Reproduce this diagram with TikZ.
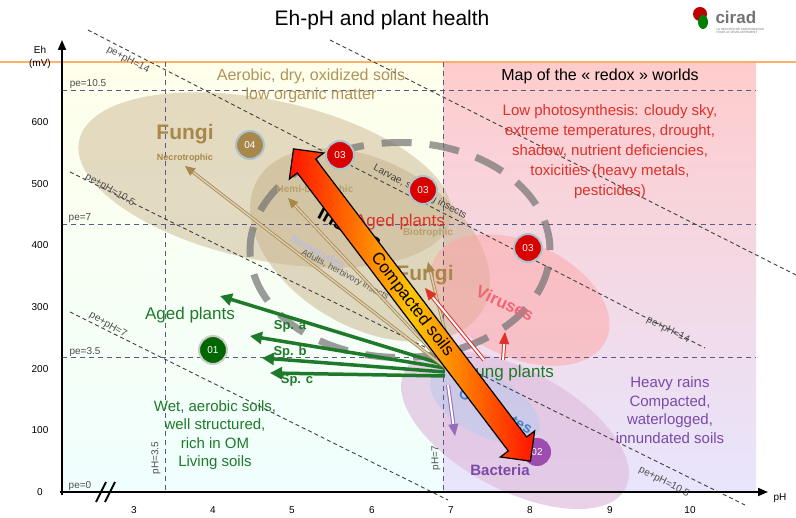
\documentclass[tikz,border=0pt]{standalone}
\usepackage{fontspec}
\setmainfont{Liberation Sans}
\usetikzlibrary{shapes.geometric,shapes.arrows,arrows.meta}
\definecolor{tan}{HTML}{A8874A}
\definecolor{dgreen}{HTML}{1E7A2A}
\definecolor{rtext}{HTML}{E0302A}
\definecolor{ptext}{HTML}{7A4AA8}
\tikzset{
 dl/.style={dash pattern=on 4pt off 3pt, line width=0.9pt, black!75},
 gl/.style={dash pattern=on 5pt off 4pt, line width=1pt, black!45!blue!30!gray},
 lbl/.style={font=\fontsize{10}{11}\selectfont, black!70},
 num/.style={circle, minimum size=28pt, inner sep=0pt, draw=cyan!30!gray!60, line width=2pt, text=white, font=\fontsize{10}{10}\selectfont},
 ell/.style={ellipse, inner sep=0pt},
 garr/.style={-{Triangle[length=12pt,width=12pt]}, dgreen, line width=3.5pt},
 tarr/.style={-{Triangle[length=10pt,width=9pt]}, double=white!60!tan, draw=tan, double distance=1.5pt, line width=0.8pt},
 rarr/.style={-{Triangle[length=12pt,width=10pt]}, double=white, draw=rtext, double distance=2pt, line width=1pt},
 parr/.style={-{Triangle[length=12pt,width=10pt]}, double=white, draw=ptext!80, double distance=2pt, line width=1pt},
}
\begin{document}
\begin{tikzpicture}[x=1pt,y=-1pt]
\useasboundingbox (0,0) rectangle (796,518);
\fill[white] (0,0) rectangle (796,518);
% backgrounds
\shade[top color=yellow!8!white, bottom color=green!10!cyan!6!white] (62,62) rectangle (443,492);
\shade[top color=red!20!white, bottom color=red!8!blue!10!white] (443,62) rectangle (756,492);
\draw[orange!60, line width=1.2pt] (0,62) -- (796,62);
% ellipses
\node[ell, fill=tan!55, opacity=0.55, minimum width=380pt, minimum height=160pt, rotate=-12] (efn) at (265,180) {};
\node[ell, fill=tan!65, opacity=0.5, minimum width=260pt, minimum height=165pt, rotate=-30] (efb) at (370,245) {};
\node[ell, fill=red!35, opacity=0.5, minimum width=190pt, minimum height=115pt, rotate=-25] (ev) at (520,300) {};
\node[ell, fill=blue!30!purple!25, opacity=0.7, minimum width=250pt, minimum height=120pt, rotate=-28] (eb) at (515,430) {};
\node[ell, fill=cyan!40!blue!25, opacity=0.6, minimum width=120pt, minimum height=60pt, rotate=-28] (eo) at (485,405) {};
% grid lines
\draw[gl] (62,91) -- (756,91);
\draw[gl] (62,225) -- (756,225);
\draw[gl] (62,358) -- (756,358);
\draw[gl] (165,62) -- (165,492);
\draw[gl] (443,62) -- (443,492);
% diagonal lines
\draw[dl] (88,30) -- (705,348);
\draw[dl] (330,40) -- (796,275);
\draw[dl] (70,172) -- (745,505);
\draw[dl] (70,312) -- (448,500);
% dashed circle
\node[ell, draw=black!55, opacity=0.7, line width=7pt, dash pattern=on 30pt off 18pt, minimum width=300pt, minimum height=215pt] (circ) at (400,250) {};
% axes
\draw[-{Triangle[length=10pt,width=8pt]}, line width=1.8pt] (62,495) -- (62,40);
\draw[-{Triangle[length=10pt,width=8pt]}, line width=1.8pt] (60,492) -- (768,492);
\draw[line width=1.8pt] (96,502) -- (106,482) (105,502) -- (115,482);
\node[font=\fontsize{10}{10}\selectfont] (eh) at (40,50) {Eh};
\node[font=\fontsize{10}{10}\selectfont] (mv) at (40,64) {(mV)};
\foreach \v/\y in {600/122,500/184,400/245,300/307,200/369,100/430,0/492}
  \node[font=\fontsize{10}{10}\selectfont] (t\v) at (40,\y) {\v};
\foreach \p/\x in {3/134,4/213,5/292,6/372,7/451,8/530,9/610,10/690}
  \node[font=\fontsize{10}{10}\selectfont] (x\p) at (\x,510) {\p};
\node[font=\fontsize{10}{10}\selectfont] (ph) at (780,498) {pH};
% line labels
\node[lbl] (pe105) at (88,84) {pe=10.5};
\node[lbl] (pe7) at (80,218) {pe=7};
\node[lbl] (pe35) at (85,352) {pe=3.5};
\node[lbl] (pe0) at (80,486) {pe=0};
\node[lbl, rotate=90] (ph35) at (156,458) {pH=3.5};
\node[lbl, rotate=90] (ph7) at (436,458) {pH=7};
\node[lbl, rotate=-28] (l14a) at (128,60) {pe+pH=14};
\node[lbl, rotate=-30] (l105a) at (110,190) {pe+pH=10.5};
\node[lbl, rotate=-30] (l7a) at (108,325) {pe+pH=7};
\node[lbl, rotate=-27] (l14b) at (668,330) {pe+pH=14};
\node[lbl, rotate=-27] (l105b) at (664,482) {pe+pH=10.5};
% title & logo
\node[font=\fontsize{21}{22}\selectfont] (title) at (382,20) {Eh-pH and plant health};
\fill[red!75!black] (700,14) circle (7pt);
\fill[green!50!black] (703,22) ellipse (5pt and 7pt);
\node[font=\bfseries\fontsize{17}{17}\selectfont, black!55, anchor=west] (cirad) at (712,17) {cirad};
\node[font=\fontsize{3}{3.5}\selectfont, black!55, anchor=west, align=left] (cirsub) at (713,31) {LA RECHERCHE AGRONOMIQUE\\POUR LE DÉVELOPPEMENT};
% region texts
\node[font=\fontsize{16}{19}\selectfont, tan!90, align=center] (aer) at (311,86) {Aerobic, dry, oxidized soils\\low organic matter};
\node[font=\fontsize{16}{18}\selectfont] (map) at (600,76) {Map of the « redox » worlds};
\node[font=\fontsize{15}{20}\selectfont, rtext, align=center] (lowp) at (610,152) {Low photosynthesis: cloudy sky,\\extreme temperatures, drought,\\shadow, nutrient deficiencies,\\toxicities (heavy metals,\\pesticides)};
\node[font=\bfseries\fontsize{21}{21}\selectfont, tan] (fungi1) at (185,134) {Fungi};
\node[font=\bfseries\fontsize{9}{9}\selectfont, tan] (necro) at (185,158) {Necrotrophic};
\node[font=\bfseries\fontsize{10}{10}\selectfont, tan!80] (hemi) at (315,190) {Hemi-biotrophic};
\node[font=\bfseries\fontsize{10}{10}\selectfont, tan!80] (bio) at (428,233) {Biotrophic};
\node[font=\bfseries\fontsize{21}{21}\selectfont, tan] (fungi2) at (425,275) {Fungi};
\node[font=\bfseries\fontsize{20}{20}\selectfont, rotate=-28] (insects) at (350,228) {Insects};
\node[font=\bfseries\fontsize{11}{11}\selectfont, blue!30!gray!40, rotate=-28] (nema) at (318,252) {Nematodes};
\node[font=\fontsize{9}{9}\selectfont, black!65, rotate=-28] (adults) at (345,275) {Adults, herbivory insects};
\node[font=\fontsize{10}{10}\selectfont, black!75, rotate=-28] (larvae) at (420,192) {Larvae, sucking insects};
\node[font=\fontsize{17}{17}\selectfont, rtext] (agedr) at (400,222) {Aged plants};
\node[font=\bfseries\fontsize{17}{17}\selectfont, red!60!purple!60, rotate=-25] (vir) at (505,303) {Viruses};
\node[font=\bfseries\fontsize{15}{15}\selectfont, cyan!50!blue!80, rotate=-28] (oomy) at (495,412) {Oomycetes};
\node[font=\bfseries\fontsize{15}{15}\selectfont, ptext] (bact) at (500,470) {Bacteria};
% green texts
\node[font=\fontsize{17}{17}\selectfont, dgreen] (agedg) at (190,315) {Aged plants};
\node[font=\bfseries\fontsize{13}{13}\selectfont, dgreen] (spa) at (290,326) {Sp. a};
\node[font=\bfseries\fontsize{13}{13}\selectfont, dgreen] (spb) at (290,352) {Sp. b};
\node[font=\bfseries\fontsize{13}{13}\selectfont, dgreen] (spc) at (297,380) {Sp. c};
\node[font=\fontsize{17}{17}\selectfont, dgreen] (young) at (505,373) {Young plants};
\node[font=\fontsize{15}{18.5}\selectfont, dgreen, align=center] (wet) at (215,435) {Wet, aerobic soils,\\well structured,\\rich in OM\\Living soils};
\node[font=\fontsize{15}{18.5}\selectfont, ptext, align=center] (heavy) at (670,410) {Heavy rains\\Compacted,\\waterlogged,\\innundated soils};
% connectors from young plants
\coordinate (ya) at (220,296);
\coordinate (yb) at (250,336);
\coordinate (yc) at (262,358);
\coordinate (yd) at (270,373);
\draw[garr] (445,365) -- (ya);
\draw[garr] (445,368) -- (yb);
\draw[garr] (445,372) -- (yc);
\draw[garr] (445,376) -- (yd);
\coordinate (tn) at (185,166);
\coordinate (th) at (288,198);
\coordinate (tb) at (428,262);
\draw[tarr] (446,368) -- (tn);
\draw[tarr] (448,368) -- (th);
\draw[tarr] (452,360) -- (tb);
\coordinate (rv) at (425,288);
\coordinate (rv2) at (505,332);
\draw[rarr] (484,360) -- (rv);
\draw[rarr] (503,360) -- (rv2);
\coordinate (pb) at (455,436);
\draw[parr] (448,385) -- (pb);
% number circles
\node[num, fill=tan] (c04) at (250,145) {04};
\node[num, fill=red!85!black] (c03a) at (340,155) {03};
\node[num, fill=red!85!black] (c03b) at (423,190) {03};
\node[num, fill=red!85!black] (c03c) at (528,248) {03};
\node[num, fill=green!40!black, draw=gray!40] (c01) at (213,350) {01};
\node[num, fill=purple!60!blue!70, draw=none] (c02) at (537,452) {02};
% compacted soils arrow
\node[double arrow, draw=black, line width=1.2pt, left color=red!85!orange, right color=red!85!orange, middle color=yellow!55!orange, minimum width=28pt, minimum height=392pt, double arrow head extend=10pt, inner sep=3pt, rotate=-52.8, font=\fontsize{17}{17}\selectfont] (comp) at (412,305) {Compacted soils};
\end{tikzpicture}
\end{document}
